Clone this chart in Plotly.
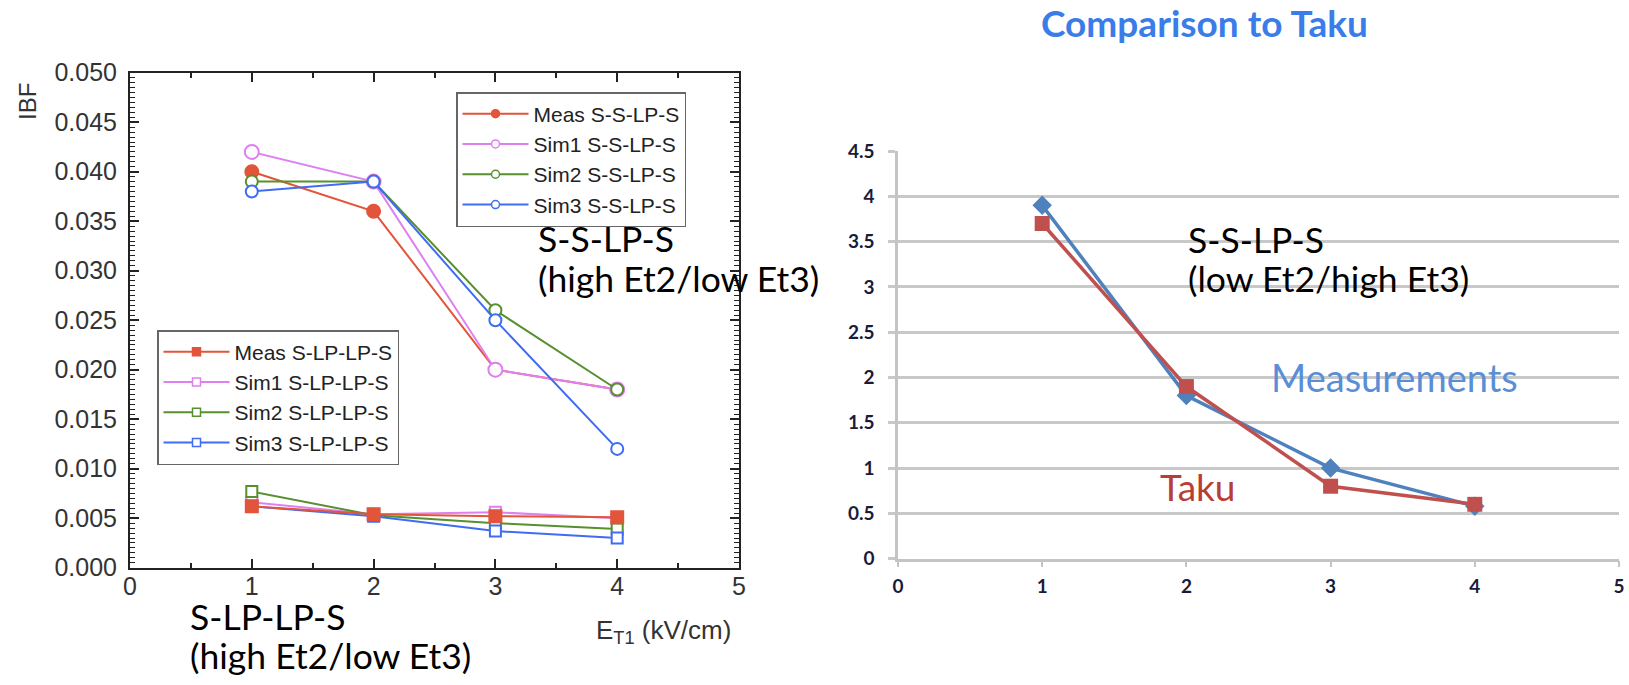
import plotly.graph_objects as go

W, H = 1629, 685

# ---------------- data: left chart (IBF vs E_T1) ----------------
et1 = [1, 2, 3, 4]
meas_sslps = [0.040, 0.036, 0.020, 0.018]
sim1_sslps = [0.042, 0.039, 0.020, 0.018]
sim2_sslps = [0.039, 0.039, 0.026, 0.018]
sim3_sslps = [0.038, 0.039, 0.025, 0.012]

meas_slplps = [0.0062, 0.0054, 0.0052, 0.0051]
sim1_slplps = [0.0066, 0.0054, 0.0056, 0.0050]
sim2_slplps = [0.0077, 0.0053, 0.0045, 0.0039]
sim3_slplps = [0.0062, 0.0052, 0.0037, 0.0030]

left_yticks = [0.000, 0.005, 0.010, 0.015, 0.020, 0.025, 0.030, 0.035, 0.040, 0.045, 0.050]
left_xticks = [0, 1, 2, 3, 4, 5]

# ---------------- data: right chart (Comparison to Taku) ----------------
x_right = [1, 2, 3, 4]
measurements = [3.9, 1.8, 1.0, 0.58]
taku = [3.7, 1.9, 0.8, 0.6]
right_yticks = [0, 0.5, 1, 1.5, 2, 2.5, 3, 3.5, 4, 4.5]
right_xticks = [0, 1, 2, 3, 4, 5]

# ---------------- colours ----------------
C_MEAS = "#e2553a"
C_SIM1 = "#de80f0"
C_SIM2 = "#56902f"
C_SIM3 = "#3f6cf2"
C_BLUE = "#4f81bd"
C_RED = "#c0504d"

HELV = "Liberation Sans, Arial, sans-serif"
CAL = "Lato, Carlito, sans-serif"

fig = go.Figure()

# ----- left chart traces (drawn) -----
def line_trace(y, color, symbol, size, name, filled):
    return go.Scatter(
        x=et1, y=y, mode="lines+markers", name=name, showlegend=False,
        line=dict(color=color, width=2),
        marker=dict(symbol=symbol, size=size, color=color if filled else "white",
                    line=dict(color=color, width=2)),
        xaxis="x", yaxis="y",
    )

fig.add_trace(line_trace(meas_sslps, C_MEAS, "circle", 13, "Meas S-S-LP-S", True))
fig.add_trace(line_trace(sim1_sslps, C_SIM1, "circle", 14, "Sim1 S-S-LP-S", False))
fig.add_trace(line_trace(sim2_sslps, C_SIM2, "circle", 12, "Sim2 S-S-LP-S", False))
fig.add_trace(line_trace(sim3_sslps, C_SIM3, "circle", 12, "Sim3 S-S-LP-S", False))

fig.add_trace(line_trace(sim1_slplps, C_SIM1, "square", 11, "Sim1 S-LP-LP-S", False))
fig.add_trace(line_trace(sim2_slplps, C_SIM2, "square", 11, "Sim2 S-LP-LP-S", False))
fig.add_trace(line_trace(sim3_slplps, C_SIM3, "square", 11, "Sim3 S-LP-LP-S", False))
fig.add_trace(line_trace(meas_slplps, C_MEAS, "square", 12, "Meas S-LP-LP-S", True))

# ----- legend entries -----
def leg_trace(color, symbol, name, filled, legend):
    return go.Scatter(
        x=[None], y=[None], mode="lines+markers", name=name, legend=legend,
        line=dict(color=color, width=2),
        marker=dict(symbol=symbol, size=8, color=color if filled else "white",
                    line=dict(color=color, width=1.5)),
        xaxis="x", yaxis="y",
    )

for c, n, f in [(C_MEAS, "Meas S-S-LP-S", True), (C_SIM1, "Sim1 S-S-LP-S", False),
                (C_SIM2, "Sim2 S-S-LP-S", False), (C_SIM3, "Sim3 S-S-LP-S", False)]:
    fig.add_trace(leg_trace(c, "circle", n, f, "legend"))
for c, n, f in [(C_MEAS, "Meas S-LP-LP-S", True), (C_SIM1, "Sim1 S-LP-LP-S", False),
                (C_SIM2, "Sim2 S-LP-LP-S", False), (C_SIM3, "Sim3 S-LP-LP-S", False)]:
    fig.add_trace(leg_trace(c, "square", n, f, "legend2"))

# ----- right chart traces -----
fig.add_trace(go.Scatter(
    x=x_right, y=measurements, mode="lines+markers", name="Measurements", showlegend=False,
    line=dict(color=C_BLUE, width=3.5),
    marker=dict(symbol="diamond", size=15, color=C_BLUE),
    xaxis="x2", yaxis="y2"))
fig.add_trace(go.Scatter(
    x=x_right, y=taku, mode="lines+markers", name="Taku", showlegend=False,
    line=dict(color=C_RED, width=3.5),
    marker=dict(symbol="square", size=15, color=C_RED),
    xaxis="x2", yaxis="y2"))


def px(x):
    return x / W


def py(y):
    return 1 - y / H


# ---------------- annotations ----------------
def ann(text, left, baseline, size, color, family=CAL, descent=0.213, weight="normal"):
    return dict(text=text, x=px(left - 1), y=py(baseline + descent * size + 1),
                xref="paper", yref="paper", xanchor="left", yanchor="bottom",
                showarrow=False, font=dict(size=size, color=color, family=family, weight=weight))

annotations = [
    ann("S-S-LP-S", 537, 253, 35.5, "black"),
    ann("(high Et2/low Et3)", 537, 293, 35.5, "black"),
    ann("S-LP-LP-S", 189, 631, 35.5, "black"),
    ann("(high Et2/low Et3)", 189, 670, 35.5, "black"),
    ann("S-S-LP-S", 1187, 254, 35.5, "black"),
    ann("(low Et2/high Et3)", 1187, 293, 35.5, "black"),
    ann("Measurements", 1270, 393, 38, "#5a8ed6"),
    ann("Taku", 1159, 502, 37, "#b83d34"),
    ann("Comparison to Taku", 1040, 38, 37, "#3b7de8", weight="bold"),
    ann("E<sub>T1</sub> (kV/cm)", 595, 643, 26, "#333333", family=HELV, descent=0.212),
    dict(text="IBF", x=px(27), y=py(102), xref="paper", yref="paper",
         xanchor="center", yanchor="middle", showarrow=False, textangle=-90,
         font=dict(size=24, color="#333333", family=HELV)),
]

fig.update_layout(
    width=W, height=H,
    margin=dict(l=0, r=0, t=0, b=0, autoexpand=False),
    paper_bgcolor="white", plot_bgcolor="white",
    showlegend=True,
    annotations=annotations,
    legend=dict(x=px(456), y=py(92), xanchor="left", yanchor="top",
                bgcolor="white", bordercolor="#666666", borderwidth=1.5,
                font=dict(family=HELV, size=21, color="#222222"),
                itemwidth=66, tracegroupgap=0),
    legend2=dict(x=px(157), y=py(330), xanchor="left", yanchor="top",
                 bgcolor="white", bordercolor="#666666", borderwidth=1.5,
                 font=dict(family=HELV, size=21, color="#222222"),
                 itemwidth=66, tracegroupgap=0),
    xaxis=dict(domain=[px(130), px(739)], range=[0, 5], anchor="y",
               tickvals=left_xticks, ticktext=[str(v) for v in left_xticks],
               ticks="inside", ticklen=9, tickwidth=1.5, tickcolor="#222",
               minor=dict(dtick=0.5, ticks="inside", ticklen=5, tickwidth=1.5, tickcolor="#222"),
               showline=True, linecolor="#222", linewidth=2, mirror="allticks",
               showgrid=False, zeroline=False,
               tickfont=dict(family=HELV, size=25, color="#333"), ticklabelstandoff=-5),
    yaxis=dict(domain=[py(567.7), py(72.7)], range=[0, 0.05], anchor="x",
               tickvals=left_yticks, ticktext=["%.3f" % v for v in left_yticks],
               ticks="inside", ticklen=9, tickwidth=1.5, tickcolor="#222",
               minor=dict(dtick=0.0005, ticks="inside", ticklen=5, tickwidth=1.2, tickcolor="#222"),
               showline=True, linecolor="#222", linewidth=2, mirror="allticks",
               showgrid=False, zeroline=False,
               tickfont=dict(family=HELV, size=25, color="#333"), ticklabelstandoff=6),
    xaxis2=dict(domain=[px(898), px(1619)], range=[0, 5], anchor="y2",
                tickvals=right_xticks, ticktext=[str(v) for v in right_xticks],
                ticks="outside", ticklen=6, tickwidth=2, tickcolor="#c4c4c4",
                showline=True, linecolor="#c4c4c4", linewidth=2.5,
                showgrid=False, zeroline=False,
                tickfont=dict(family=CAL, size=19, color="#1a1a3a", weight="bold"),
                ticklabelstandoff=3),
    yaxis2=dict(domain=[py(558.7), py(151)], range=[0, 4.5], anchor="x2",
                tickvals=right_yticks, ticktext=[("%g" % v) for v in right_yticks],
                ticks="outside", ticklen=7, tickwidth=2.5, tickcolor="#c8c8c8",
                showline=True, linecolor="#c4c4c4", linewidth=2.5,
                showgrid=True, gridcolor="#c8c8c8", gridwidth=2.5, zeroline=False,
                tickfont=dict(family=CAL, size=19, color="#1a1a3a", weight="bold"),
                ticklabelstandoff=10),
)

fig.write_html("out.html")
